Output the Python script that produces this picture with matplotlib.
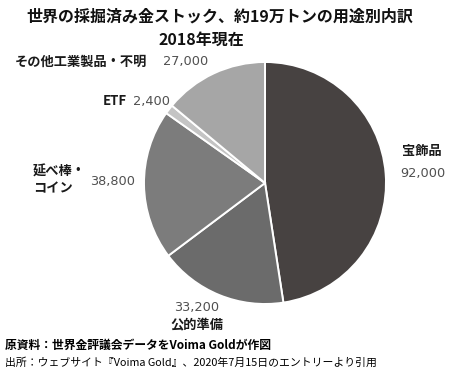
import matplotlib
matplotlib.use('Agg')
import matplotlib.pyplot as plt

plt.rcParams['font.family'] = ['Noto Sans CJK JP', 'DejaVu Sans']

CATEGORIES = ['宝飾品', '公的準備', '延べ棒・\nコイン', 'ETF', 'その他工業製品・不明']
VALUES = [92000, 33200, 38800, 2400, 27000]
COLORS = ['#474241', '#6b6b6b', '#7c7c7c', '#c4c4c4', '#a6a6a6']

W, H = 450, 374


def px(x, y):
    return x / W, 1 - y / H


fig = plt.figure(figsize=(W / 100, H / 100), dpi=100)
fig.patch.set_facecolor('white')

cx, cy, r = 265, 183, 121
ax = fig.add_axes([(cx - r) / W, (H - cy - r) / H, 2 * r / W, 2 * r / H])
ax.pie(VALUES, colors=COLORS, startangle=90, counterclock=False,
       wedgeprops=dict(edgecolor='white', linewidth=1.4))
ax.set_xlim(-1, 1)
ax.set_ylim(-1, 1)
ax.set_aspect('auto')
ax.axis('off')

# title
fig.text(*px(220, 17), '世界の採掘済み金ストック、約19万トンの用途別内訳',
         ha='center', va='center', fontsize=11.5, fontweight='bold',
         color='#111111')
fig.text(*px(201, 40), '2018年現在', ha='center', va='center',
         fontsize=11.5, fontweight='bold', color='#111111')

lab = dict(fontsize=9.5, fontweight='bold', color='#1a1a1a')
num = dict(fontsize=9.3, color='#505050', family='DejaVu Sans')


def fmt(v):
    return f'{v:,}'


# その他
fig.text(*px(15, 62), CATEGORIES[4], ha='left', va='center', **lab)
fig.text(*px(163, 62), fmt(VALUES[4]), ha='left', va='center', **num)
# ETF
fig.text(*px(103, 101), CATEGORIES[3], ha='left', va='center', **lab)
fig.text(*px(133, 101), fmt(VALUES[3]), ha='left', va='center', **num)
# 延べ棒・コイン
fig.text(*px(33, 180), CATEGORIES[2], ha='left', va='center',
         linespacing=1.3, **lab)
fig.text(*px(90, 182), fmt(VALUES[2]), ha='left', va='center', **num)
# 宝飾品
fig.text(*px(402, 151), CATEGORIES[0], ha='left', va='center', **lab)
fig.text(*px(400, 173), fmt(VALUES[0]), ha='left', va='center', **num)
# 公的準備
fig.text(*px(197, 307), fmt(VALUES[1]), ha='center', va='center', **num)
fig.text(*px(197, 325), CATEGORIES[1], ha='center', va='center', **lab)

# footer
fig.text(*px(5, 345), '原資料：世界金評議会データをVoima Goldが作図',
         ha='left', va='center', fontsize=8.5, fontweight='bold')
fig.text(*px(5, 363), '出所：ウェブサイト『Voima Gold』、2020年7月15日のエントリーより引用',
         ha='left', va='center', fontsize=7.8)

fig.savefig('out.png', dpi=100)
